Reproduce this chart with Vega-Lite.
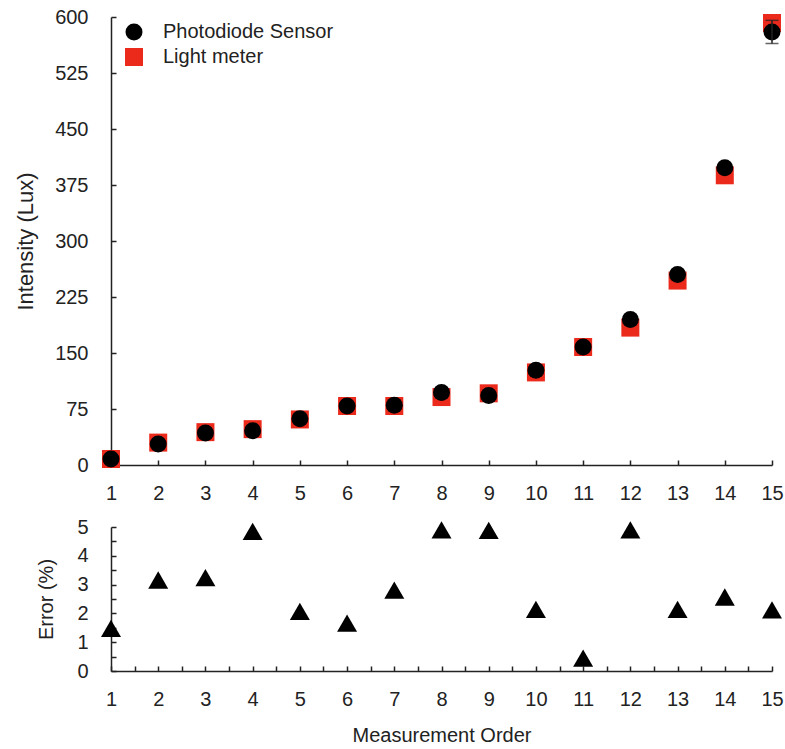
{
  "$schema": "https://vega.github.io/schema/vega-lite/v6.json",
  "padding": {"left": 14, "top": 7, "right": 5, "bottom": 5},
  "config": {
    "view": {"stroke": null},
    "font": "Liberation Sans",
    "axis": {
      "grid": false,
      "ticks": true,
      "domainColor": "#222222",
      "domainWidth": 1.5,
      "tickColor": "#222222",
      "tickWidth": 1.5,
      "tickSize": -5,
      "labelFont": "Liberation Sans",
      "labelFontSize": 20,
      "labelColor": "#222222",
      "labelFlush": false,
      "labelOverlap": false,
      "labelBound": false,
      "titleFont": "Liberation Sans",
      "titleFontSize": 20,
      "titleFontWeight": "normal",
      "titleColor": "#222222"
    },
    "legend": {
      "labelFont": "Liberation Sans",
      "labelFontSize": 20,
      "labelColor": "#222222",
      "labelLimit": 400,
      "padding": 0
    }
  },
  "datasets": {
    "intensity": [
      {"order": 1, "series": "Light meter", "value": 8, "sd": 0},
      {"order": 2, "series": "Light meter", "value": 30, "sd": 0},
      {"order": 3, "series": "Light meter", "value": 44, "sd": 0},
      {"order": 4, "series": "Light meter", "value": 48, "sd": 0},
      {"order": 5, "series": "Light meter", "value": 61, "sd": 0},
      {"order": 6, "series": "Light meter", "value": 79, "sd": 0},
      {"order": 7, "series": "Light meter", "value": 79, "sd": 0},
      {"order": 8, "series": "Light meter", "value": 91, "sd": 0},
      {"order": 9, "series": "Light meter", "value": 96, "sd": 0},
      {"order": 10, "series": "Light meter", "value": 124, "sd": 0},
      {"order": 11, "series": "Light meter", "value": 158, "sd": 0},
      {"order": 12, "series": "Light meter", "value": 184, "sd": 0},
      {"order": 13, "series": "Light meter", "value": 247, "sd": 0},
      {"order": 14, "series": "Light meter", "value": 388, "sd": 0},
      {"order": 15, "series": "Light meter", "value": 592, "sd": 0},
      {"order": 1, "series": "Photodiode Sensor", "value": 8, "sd": 0},
      {"order": 2, "series": "Photodiode Sensor", "value": 28, "sd": 0},
      {"order": 3, "series": "Photodiode Sensor", "value": 43, "sd": 0},
      {"order": 4, "series": "Photodiode Sensor", "value": 46, "sd": 0},
      {"order": 5, "series": "Photodiode Sensor", "value": 62, "sd": 0},
      {"order": 6, "series": "Photodiode Sensor", "value": 79, "sd": 0},
      {"order": 7, "series": "Photodiode Sensor", "value": 80, "sd": 0},
      {"order": 8, "series": "Photodiode Sensor", "value": 97, "sd": 0},
      {"order": 9, "series": "Photodiode Sensor", "value": 93, "sd": 0},
      {"order": 10, "series": "Photodiode Sensor", "value": 127, "sd": 0},
      {"order": 11, "series": "Photodiode Sensor", "value": 158, "sd": 0},
      {"order": 12, "series": "Photodiode Sensor", "value": 195, "sd": 0},
      {"order": 13, "series": "Photodiode Sensor", "value": 255, "sd": 0},
      {"order": 14, "series": "Photodiode Sensor", "value": 398, "sd": 0},
      {"order": 15, "series": "Photodiode Sensor", "value": 580, "sd": 15.5}
    ],
    "error": [
      {"order": 1, "error": 1.48},
      {"order": 2, "error": 3.16},
      {"order": 3, "error": 3.24},
      {"order": 4, "error": 4.85},
      {"order": 5, "error": 2.07},
      {"order": 6, "error": 1.66},
      {"order": 7, "error": 2.81},
      {"order": 8, "error": 4.9},
      {"order": 9, "error": 4.88},
      {"order": 10, "error": 2.14},
      {"order": 11, "error": 0.45},
      {"order": 12, "error": 4.9},
      {"order": 13, "error": 2.14},
      {"order": 14, "error": 2.57},
      {"order": 15, "error": 2.12}
    ]
  },
  "vconcat": [
    {
      "width": 661,
      "height": 448,
      "data": {"name": "intensity"},
      "layer": [
        {
          "mark": {"type": "point", "filled": true, "opacity": 1, "strokeWidth": 0},
          "encoding": {
            "x": {
              "field": "order", "type": "quantitative",
              "scale": {"domain": [1, 15], "nice": false, "zero": false},
              "axis": {
                "title": null,
                "values": [1,1.5,2,2.5,3,3.5,4,4.5,5,5.5,6,6.5,7,7.5,8,8.5,9,9.5,10,10.5,11,11.5,12,12.5,13,13.5,14,14.5,15],
                "labelExpr": "datum.value % 1 == 0 ? format(datum.value, 'd') : ''",
                "labelPadding": 23
              }
            },
            "y": {
              "field": "value", "type": "quantitative",
              "title": "Intensity (Lux)",
              "scale": {"domain": [0, 600], "nice": false},
              "axis": {
                "title": "Intensity (Lux)",
                "titleFontSize": 22,
                "values": [0,37.5,75,112.5,150,187.5,225,262.5,300,337.5,375,412.5,450,487.5,525,562.5,600],
                "labelExpr": "datum.value % 75 == 0 ? format(datum.value, 'd') : ''",
                "labelPadding": 28,
                "titlePadding": 17
              }
            },
            "color": {
              "field": "series", "type": "nominal",
              "scale": {"domain": ["Photodiode Sensor", "Light meter"], "range": ["#000000", "#ec2a1c"]},
              "legend": {
                "title": null,
                "orient": "none",
                "legendX": 13,
                "legendY": 5,
                "symbolSize": 175,
                "labelOffset": 19,
                "rowPadding": 5
              }
            },
            "shape": {
              "field": "series", "type": "nominal",
              "scale": {"domain": ["Photodiode Sensor", "Light meter"], "range": ["circle", "square"]}
            },
            "size": {
              "field": "series", "type": "nominal",
              "scale": {"domain": ["Photodiode Sensor", "Light meter"], "range": [289, 324]},
              "legend": null
            }
          }
        },
        {
          "transform": [{"filter": "datum.series == 'Photodiode Sensor' && datum.sd > 0"}],
          "mark": {"type": "errorbar", "ticks": {"size": 13}, "color": "#222222", "thickness": 1.5},
          "encoding": {
            "x": {"field": "order", "type": "quantitative"},
            "y": {"field": "value", "type": "quantitative", "title": "Intensity (Lux)"},
            "yError": {"field": "sd"}
          }
        }
      ]
    },
    {
      "width": 661,
      "height": 144,
      "data": {"name": "error"},
      "mark": {"type": "point", "shape": "triangle-up", "filled": true, "color": "#000000", "opacity": 1, "size": 400, "strokeWidth": 0},
      "encoding": {
        "x": {
          "field": "order", "type": "quantitative",
          "scale": {"domain": [1, 15], "nice": false, "zero": false},
          "axis": {
            "title": "Measurement Order",
            "titlePadding": 16,
            "values": [1,1.5,2,2.5,3,3.5,4,4.5,5,5.5,6,6.5,7,7.5,8,8.5,9,9.5,10,10.5,11,11.5,12,12.5,13,13.5,14,14.5,15],
            "labelExpr": "datum.value % 1 == 0 ? format(datum.value, 'd') : ''",
            "labelPadding": 23
          }
        },
        "y": {
          "field": "error", "type": "quantitative",
          "scale": {"domain": [0, 5], "nice": false},
          "axis": {
            "title": "Error (%)",
            "values": [0,0.5,1,1.5,2,2.5,3,3.5,4,4.5,5],
            "labelExpr": "datum.value % 1 == 0 ? format(datum.value, 'd') : ''",
            "labelPadding": 28,
            "titlePadding": 20
          }
        }
      }
    }
  ],
  "spacing": 14
}
